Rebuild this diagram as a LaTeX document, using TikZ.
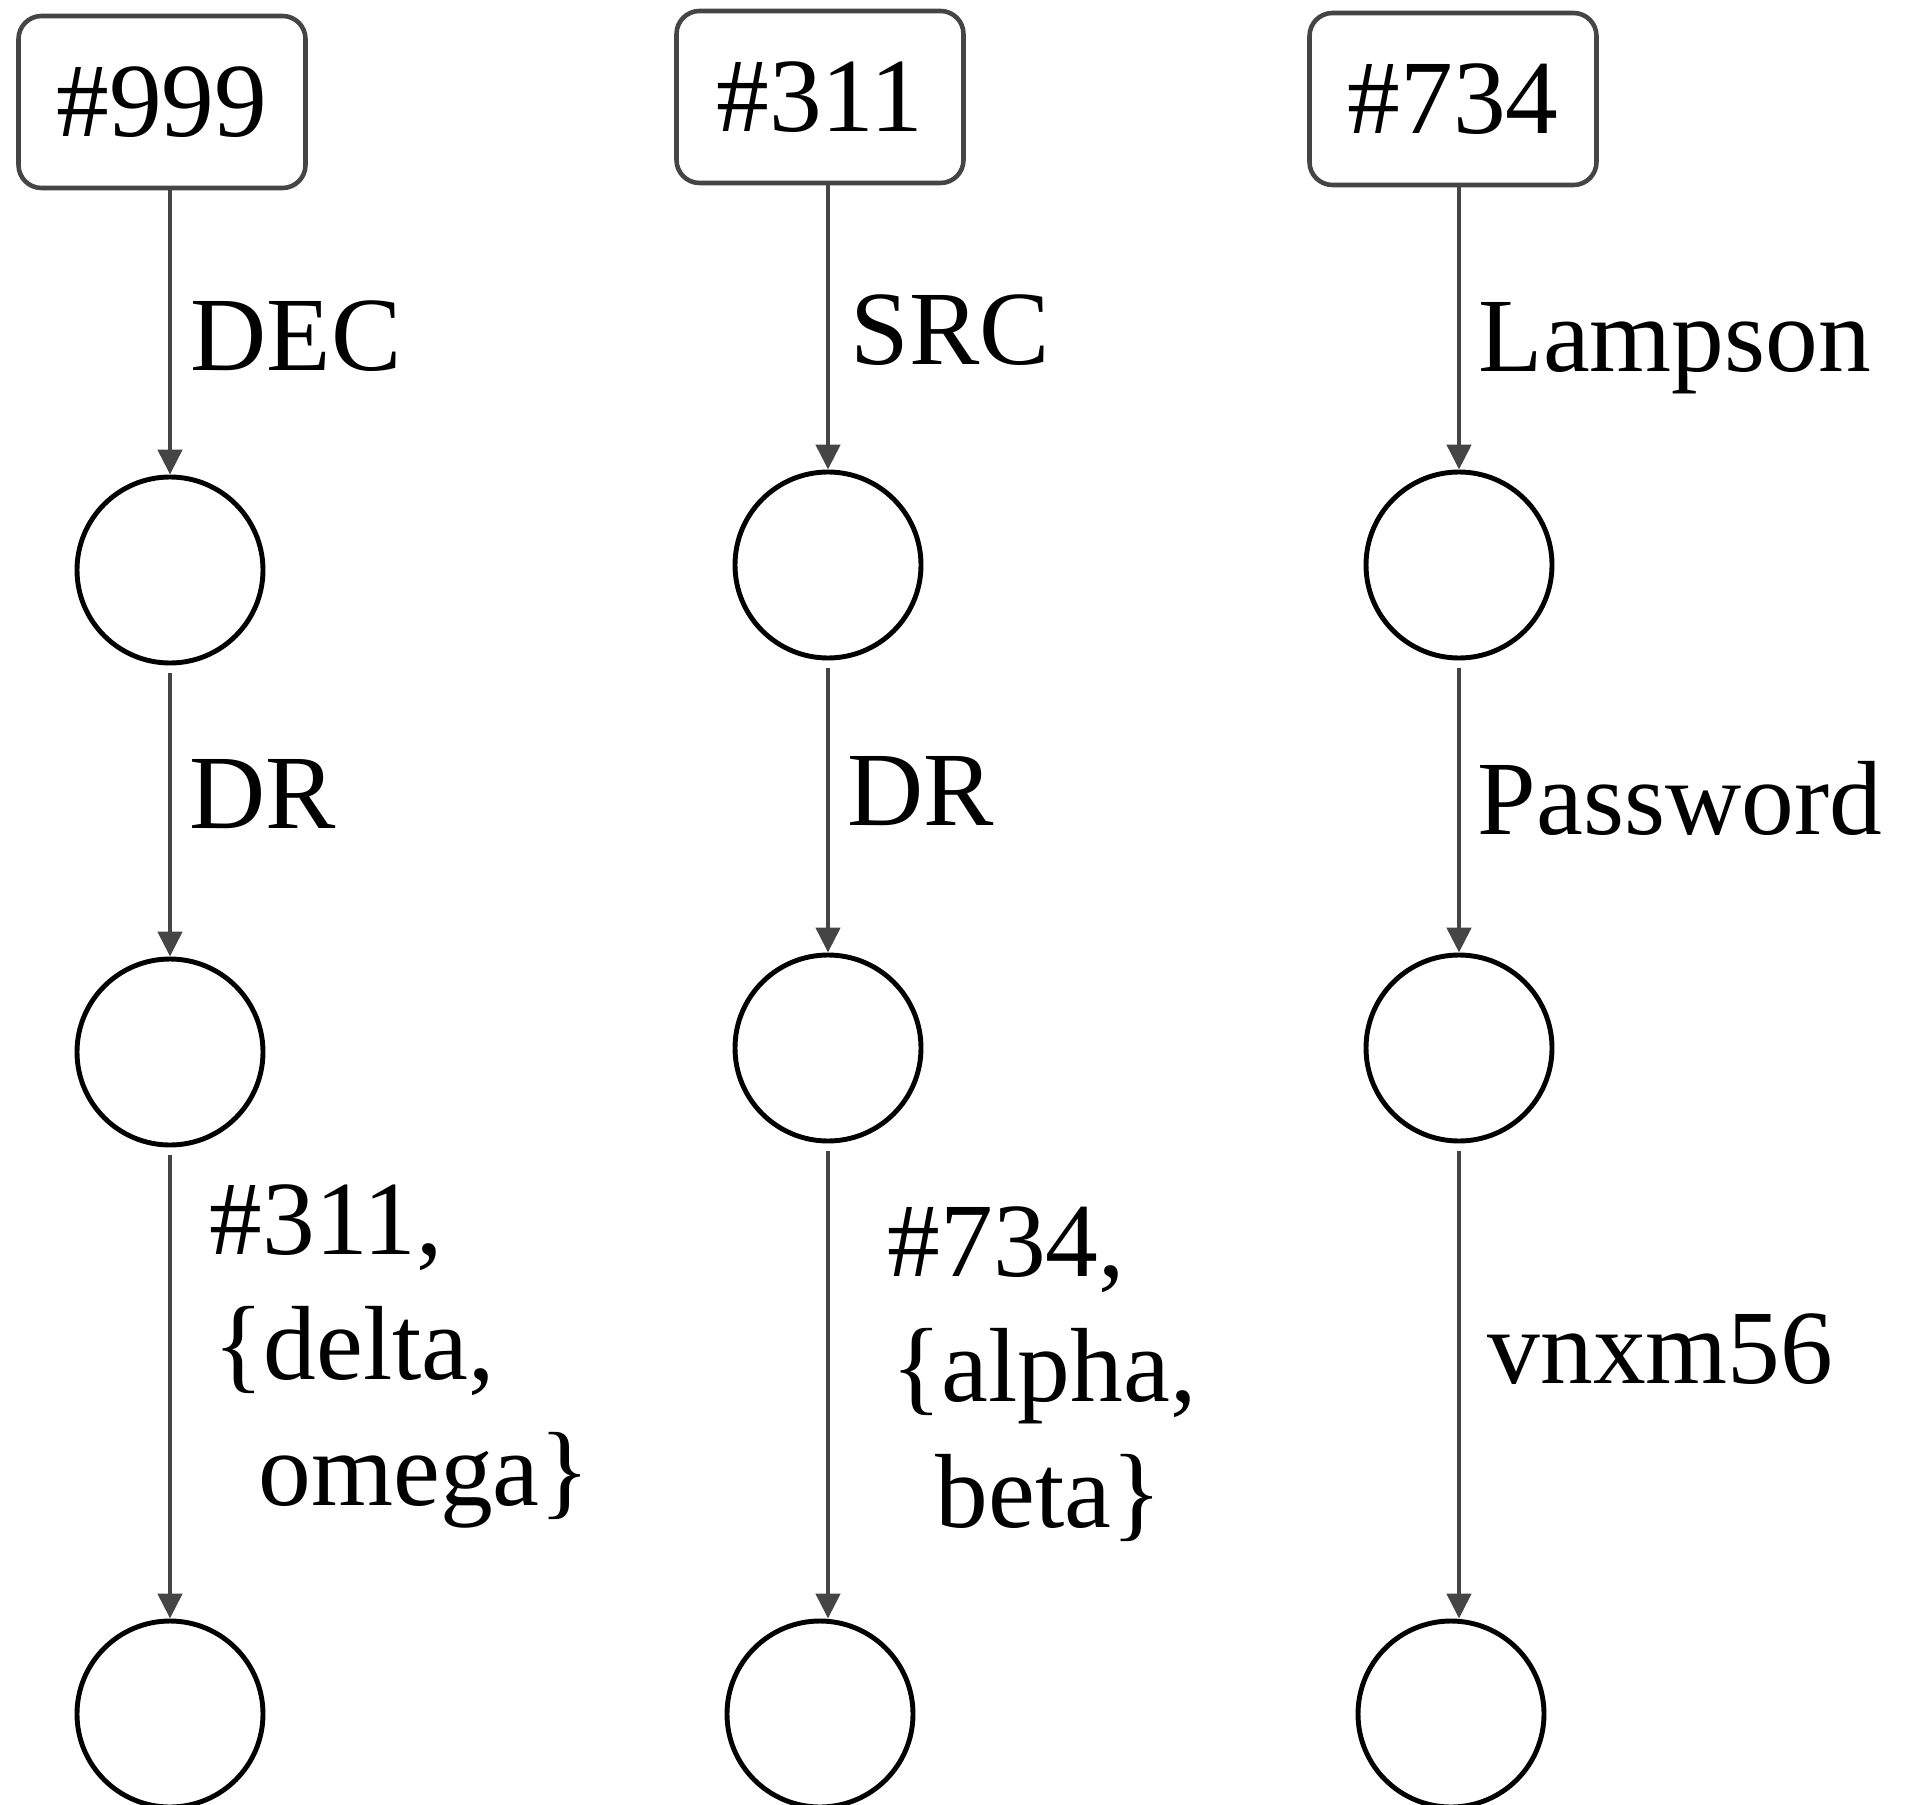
\documentclass[tikz,border=0pt]{standalone}
\usepackage{fontspec}
\setmainfont{Liberation Serif}
\usetikzlibrary{arrows.meta}
\definecolor{linegray}{HTML}{454545}

\begin{document}
\begin{tikzpicture}[
    font=\fontsize{30}{35.6}\selectfont,
    idbox/.style={draw=linegray, line width=1.3pt, rounded corners=0.23cm,
      minimum width=2.87cm, minimum height=1.72cm, inner sep=0pt},
    vertex/.style={circle, draw=black, line width=1.4pt, minimum size=1.86cm, inner sep=0pt},
    link/.style={draw=linegray, line width=1.35pt, -{Triangle[length=0.25cm, width=0.24cm]}},
    lbl/.style={anchor=base west, inner sep=0pt, align=left}
  ]
            \useasboundingbox (0, 0) rectangle (19.06, -18.05);

            \node[idbox] (id1) at (1.62, -1.02) {\#999};
            \node[idbox] (id2) at (8.20, -0.97) {\#311};
            \node[idbox] (id3) at (14.53, -0.99) {\#734};

            \node[vertex] (u1) at (1.70, -5.70) {};
            \node[vertex] (u2) at (8.28, -5.65) {};
            \node[vertex] (u3) at (14.59, -5.65) {};

            \node[vertex] (v1) at (1.70, -10.52) {};
            \node[vertex] (v2) at (8.28, -10.48) {};
            \node[vertex] (v3) at (14.59, -10.48) {};

            \node[vertex] (w1) at (1.70, -17.14) {};
            \node[vertex] (w2) at (8.20, -17.14) {};
            \node[vertex] (w3) at (14.51, -17.14) {};

            \draw[link] (u1 |- id1.south) to (u1);
            \draw[link] (u2 |- id2.south) to (u2);
            \draw[link] (u3 |- id3.south) to (u3);

            \draw[link, shorten <=0.08cm] (u1) to (v1);
            \draw[link, shorten <=0.08cm] (u2) to (v2);
            \draw[link, shorten <=0.08cm] (u3) to (v3);

            \draw[link, shorten <=0.08cm] (v1) to (v1 |- w1.north);
            \draw[link, shorten <=0.08cm] (v2) to (v2 |- w2.north);
            \draw[link, shorten <=0.08cm] (v3) to (v3 |- w3.north);

            \node[lbl] (l1) at (1.90, -3.71) {DEC};
            \node[lbl] (l2) at (8.50, -3.65) {SRC};
            \node[lbl] (l3) at (14.78, -3.72) {Lampson};
            \node[lbl] (l4) at (1.89, -8.28) {DR};
            \node[lbl] (l5) at (8.47, -8.25) {DR};
            \node[lbl] (l6) at (14.77, -8.34) {Password};
            \node[lbl] (l7) at (2.09, -15.05) {\#311,\\\hspace{0.035cm}\{delta,\\\hspace{0.49cm}omega\}};
            \node[lbl] (l8) at (8.87, -15.27) {\#734,\\\hspace{0.035cm}\{alpha,\\\hspace{0.48cm}beta\}};
            \node[lbl] (l9) at (14.87, -13.83) {vnxm56};
        \end{tikzpicture}
\end{document}
